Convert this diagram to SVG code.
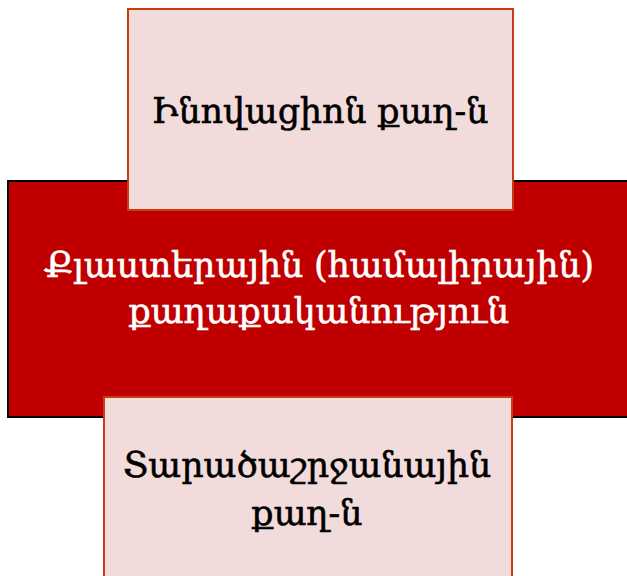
<svg xmlns="http://www.w3.org/2000/svg" width="627" height="576" viewBox="0 0 627 576">
<style>
.box{fill:#f2dcdb;stroke:#cc3a12;stroke-width:2}
.dark{font-family:"DejaVu Serif","Noto Serif",serif;font-size:34.7px;fill:#000;stroke:#000;stroke-width:0.6;text-anchor:middle}
.light{font-family:"DejaVu Serif","Noto Serif",serif;font-size:34.7px;fill:#fff;stroke:#fff;stroke-width:0.6;text-anchor:middle}
</style>
<rect width="627" height="576" fill="#fff"/>
<g id="center">
<rect x="8" y="181" width="625" height="236" fill="#c00000" stroke="#000" stroke-width="2"/>
<text class="light" x="319" y="277">Քլաստերային (համալիրային)</text>
<text class="light" x="319" y="323">քաղաքականություն</text>
</g>
<g id="top">
<rect class="box" x="128" y="9" width="385" height="201"/>
<text class="dark" x="320" y="123">Ինովացիոն քաղ-ն</text>
</g>
<g id="bottom">
<rect class="box" x="104" y="397" width="408" height="190"/>
<text class="dark" x="307" y="477">Տարածաշրջանային</text>
<text class="dark" x="307" y="525">քաղ-ն</text>
</g>
<g id="connectors"/>
</svg>
